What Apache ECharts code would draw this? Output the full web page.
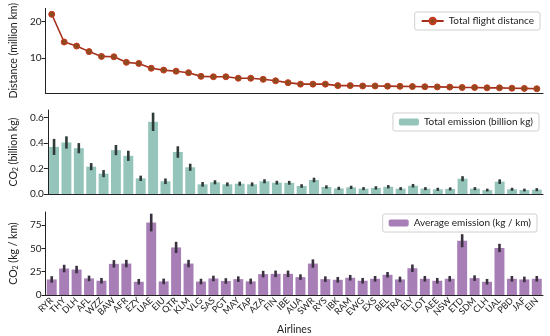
<!DOCTYPE html>
<html><head><meta charset="utf-8">
<script src="https://cdn.jsdelivr.net/npm/echarts@6/dist/echarts.min.js"></script>
<style>html,body{margin:0;padding:0;background:#fff}#c{width:550px;height:336px}</style>
</head><body><div id="c"></div>
<script>
const categories = ["RYR","THY","DLH","AFL","WZZ","BAW","AFR","EZY","UAE","EIU","QTR","KLM","VLG","SAS","PGT","MAY","TAP","AZA","FIN","IBE","AUA","SWR","RYS","IBK","RAM","EWG","EXS","BEL","TRA","ELY","LOT","AEE","NSW","ETD","SDM","CLH","UAL","PBD","JAF","EIN"];
const distance = [21.9,14.4,13.3,11.8,10.5,10.4,8.9,8.6,7.3,6.8,6.5,6.1,5.1,5.0,5.0,4.6,4.6,4.3,3.9,3.4,3.0,3.0,3.0,2.6,2.6,2.5,2.5,2.45,2.4,2.35,2.3,2.25,2.2,2.1,2.1,2.0,2.0,1.9,1.85,1.75];
const totalEmission = [0.37,0.405,0.36,0.215,0.16,0.345,0.30,0.123,0.567,0.10,0.33,0.21,0.076,0.092,0.076,0.081,0.076,0.10,0.089,0.088,0.063,0.11,0.055,0.044,0.052,0.042,0.048,0.057,0.042,0.065,0.042,0.037,0.04,0.12,0.042,0.031,0.097,0.037,0.031,0.034];
const totalErr = [0.063,0.048,0.04,0.028,0.028,0.04,0.04,0.021,0.072,0.022,0.045,0.028,0.018,0.016,0.015,0.016,0.015,0.016,0.015,0.015,0.014,0.018,0.013,0.013,0.013,0.012,0.013,0.013,0.012,0.014,0.012,0.012,0.012,0.02,0.012,0.011,0.018,0.012,0.011,0.012];
const avgEmission = [16.7,28.4,27.3,17.8,15.3,33.4,33.7,14.2,77.7,14.6,51,33.7,14.4,17.7,15,17,14.6,22.4,22.7,22.7,19.2,33.7,17,16.3,18.5,15.3,17.4,21.7,16.7,28.7,17.4,15.3,17.4,58.2,18.1,14.2,50.4,17.4,16.7,17.4];
const avgErr = [3.5,4,4,3,3,4,4,3,9.5,3,6,4,3,3,3,3,3,3.5,3.5,3.5,3,4.5,3,3,3,3,3,3,3,4,3,3,3,7,3,3,4.5,3,3,3];
const distTicks = [10, 20];
const totalTicks = [0, 0.2, 0.4, 0.6];
const avgTicks = [0, 25, 50, 75];

const FONT = 'Lato';
const chart = echarts.init(document.getElementById('c'));
const grids = [
  {left:36, right:7, top:6, height:87},
  {left:36, right:7, top:110, height:84},
  {left:36, right:7, top:212, height:84}
];
function xAx(i, labels){
  return {
    type:'category', gridIndex:i, data:categories, boundaryGap:true,
    axisLine:{lineStyle:{color:'#222', width:1}},
    axisTick:{alignWithLabel:true, length:4, lineStyle:{color:'#222'}},
    axisLabel:{show:labels, rotate:45, fontSize:9, color:'#222', fontFamily:FONT, margin:4, interval:0},
    name: labels ? 'Airlines' : '', nameLocation:'middle', nameGap:29,
    nameTextStyle:{fontSize:10.5, color:'#222', fontFamily:FONT}
  };
}
function yAx(i, min, max, ticks, fmt, name, gap){
  return {
    type:'value', gridIndex:i, min:min, max:max,
    axisLine:{show:true, lineStyle:{color:'#222', width:1}},
    axisTick:{show:true, length:4, lineStyle:{color:'#222'}, customValues:ticks},
    axisLabel:{fontSize:10, color:'#222', fontFamily:FONT, margin:4, customValues:ticks, formatter:fmt},
    splitLine:{show:false},
    name:name, nameLocation:'middle', nameGap:gap, nameRotate:90,
    nameTextStyle:{fontSize:10.5, color:'#222', fontFamily:FONT,
      rich:{n:{fontSize:10.5, color:'#222', fontFamily:FONT}, s:{fontSize:7, color:'#222', fontFamily:FONT, verticalAlign:'bottom', padding:[4,0,0,0]}}}
  };
}
function errRender(color){
  return function(params, api){
    const x = api.value(0), lo = api.value(1), hi = api.value(2);
    const p1 = api.coord([x, lo]), p2 = api.coord([x, hi]);
    return {type:'line', shape:{x1:p1[0], y1:p1[1], x2:p2[0], y2:p2[1]}, style:{stroke:color, lineWidth:2.6}};
  };
}
const legendBase = {orient:'horizontal', backgroundColor:'#fff', borderColor:'#d0d0d0', borderWidth:1, borderRadius:2,
  padding:[4,6], itemWidth:20, itemHeight:7, itemGap:5,
  textStyle:{fontSize:10, color:'#222', fontFamily:FONT}};

chart.setOption({
  animation:false,
  textStyle:{fontFamily:FONT},
  grid:grids,
  xAxis:[xAx(0,false), xAx(1,false), xAx(2,true)],
  yAxis:[
    yAx(0, 0.6, 23.5, distTicks, v => String(v), 'Distance (million km)', 20),
    yAx(1, 0, 0.66, totalTicks, v => v.toFixed(1), '{n|CO}{s|2}{n| (billion kg)}', 22),
    yAx(2, 0, 89, avgTicks, v => String(v), '{n|CO}{s|2}{n| (kg / km)}', 20)
  ],
  legend:[
    Object.assign({}, legendBase, {data:['Total flight distance'], right:10, top:12, itemWidth:22, itemHeight:8}),
    Object.assign({}, legendBase, {data:['Total emission (billion kg)'], right:11, top:113}),
    Object.assign({}, legendBase, {data:['Average emission (kg / km)'], right:13, top:214})
  ],
  series:[
    {name:'Total flight distance', type:'line', xAxisIndex:0, yAxisIndex:0, data:distance,
      symbol:'circle', symbolSize:6, lineStyle:{color:'#a4301c', width:1.6},
      itemStyle:{color:'#8e4a1e', borderColor:'#c8391f', borderWidth:1}},
    {name:'Total emission (billion kg)', type:'bar', xAxisIndex:1, yAxisIndex:1, data:totalEmission,
      barCategoryGap:'20%', itemStyle:{color:'#95c5ba'}},
    {type:'custom', xAxisIndex:1, yAxisIndex:1, renderItem:errRender('#2f3b38'),
      encode:{x:0, y:[1,2]}, data:categories.map((c,i)=>[i, totalEmission[i]-totalErr[i], totalEmission[i]+totalErr[i]]), z:5},
    {name:'Average emission (kg / km)', type:'bar', xAxisIndex:2, yAxisIndex:2, data:avgEmission,
      barCategoryGap:'20%', itemStyle:{color:'#a77fb6'}},
    {type:'custom', xAxisIndex:2, yAxisIndex:2, renderItem:errRender('#3a3040'),
      encode:{x:0, y:[1,2]}, data:categories.map((c,i)=>[i, avgEmission[i]-avgErr[i], avgEmission[i]+avgErr[i]]), z:5}
  ]
});
</script></body></html>
